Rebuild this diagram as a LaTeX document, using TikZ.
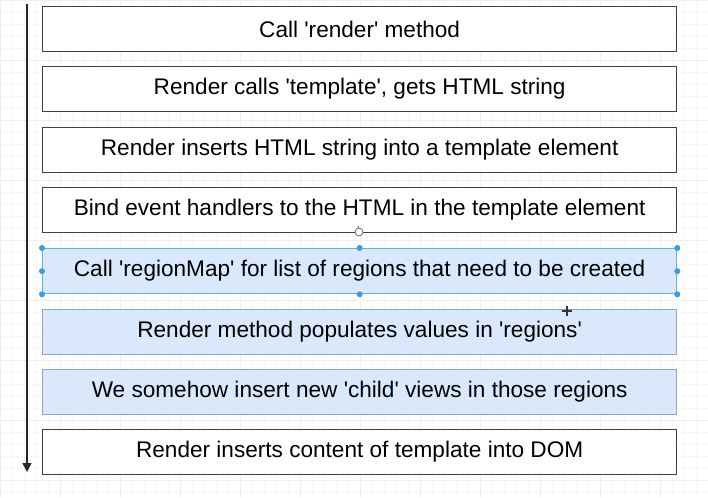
\documentclass[tikz,border=0pt]{standalone}
\usepackage{fontspec}
\setmainfont{Liberation Sans}
\usetikzlibrary{arrows.meta}
\definecolor{gridminor}{HTML}{F7F7F7}
\definecolor{gridmajor}{HTML}{EFEFEF}
\definecolor{stepfill}{HTML}{DAE8FC}
\definecolor{stepline}{HTML}{6C8EBF}
\definecolor{handle}{HTML}{3D9BE0}
\newcommand{\sq}{\textquotesingle}
\begin{document}
\begin{tikzpicture}[x=1pt,y=-1pt,
  stepbox/.style={draw=black!75,line width=1.3pt,fill=white,minimum width=634pt,minimum height=45pt,
    inner sep=0pt,anchor=north west,font=\fontsize{22.6}{26}\selectfont},
  bluebox/.style={stepbox,fill=stepfill,draw=stepline!80},
  selbox/.style={bluebox,draw=handle!80},
  grip/.style={circle,fill=handle,inner sep=0pt,minimum size=6pt}]
  \useasboundingbox (0,0) rectangle (708,497);
  % background grid
  \foreach \x in {0,12,...,708} \draw[gridminor,line width=0.4pt] (\x,0) -- (\x,497);
  \foreach \y in {0,12,...,497} \draw[gridminor,line width=0.4pt] (0,\y) -- (708,\y);
  \foreach \x in {0,60,...,708} \draw[gridmajor,line width=0.5pt] (\x,0) -- (\x,497);
  \foreach \y in {0,60,...,497} \draw[gridmajor,line width=0.5pt] (0,\y) -- (708,\y);
  % steps
  \node[stepbox] (s1) at (42,6)   {Call \sq render\sq{} method};
  \node[stepbox] (s2) at (42,66)  {Render calls \sq template\sq, gets HTML string};
  \node[stepbox] (s3) at (42,127) {Render inserts HTML string into a template element};
  \node[stepbox] (s4) at (42,187) {Bind event handlers to the HTML in the template element};
  \node[selbox]  (s5) at (42,248) {Call \sq regionMap\sq{} for list of regions that need to be created};
  \node[bluebox] (s6) at (42,309) {Render method populates values in \sq regions\sq};
  \node[bluebox] (s7) at (42,369) {We somehow insert new \sq child\sq{} views in those regions};
  \node[stepbox] (s8) at (42,429) {Render inserts content of template into DOM};
  % flow arrow
  \coordinate (top) at (27,4);
  \coordinate (bottom) at (27,472);
  \draw[black!85,line width=1.3pt,-{Triangle[length=9pt,width=9pt]}] (top) -- (bottom);
  % selection handles
  \foreach \a in {north west,west,south west,north,south,north east,east,south east}
    \node[grip] at (s5.\a) {};
  \node[circle,draw=black!60,fill=white,line width=0.8pt,inner sep=0pt,minimum size=8pt] (rot) at (359,232) {};
  \draw[black!60,line width=0.8pt] (rot.north) -- ++(-1.5,-1.5);
  % cursor
  \coordinate (cur) at (567,311);
  \draw[black!80,line width=1.4pt] ([xshift=-5pt]cur) -- ([xshift=5pt]cur) ([yshift=-5pt]cur) -- ([yshift=5pt]cur);
\end{tikzpicture}
\end{document}
